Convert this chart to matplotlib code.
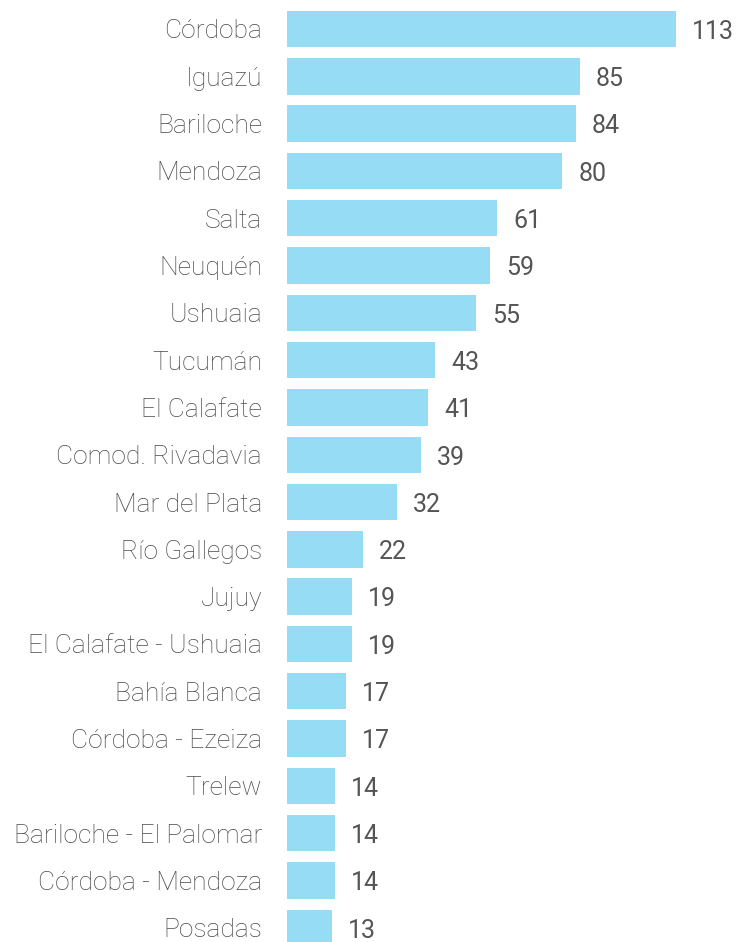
import matplotlib.pyplot as plt

rutas = ["Córdoba", "Iguazú", "Bariloche", "Mendoza", "Salta", "Neuquén",
         "Ushuaia", "Tucumán", "El Calafate", "Comod. Rivadavia", "Mar del Plata",
         "Río Gallegos", "Jujuy", "El Calafate - Ushuaia", "Bahía Blanca",
         "Córdoba - Ezeiza", "Trelew", "Bariloche - El Palomar",
         "Córdoba - Mendoza", "Posadas"]
vuelos = [113, 85, 84, 80, 61, 59, 55, 43, 41, 39, 32, 22, 19, 19, 17, 17,
          14, 14, 14, 13]

fig = plt.figure(figsize=(7.38, 9.42), dpi=100)
ax = fig.add_axes([287 / 738, 0, 1 - 287 / 738, 1])

pos = list(range(len(rutas)))
ax.barh(pos, vuelos, height=0.77, color="#97dcf5")

for y, v in zip(pos, vuelos):
    ax.annotate(str(v), (v, y), xytext=(11.5, -2), textcoords="offset points",
                ha="left", va="center", fontsize=18, family="Roboto",
                color="#555555")

ax.set_xlim(0, 451 / 3.442)
ax.set_ylim(19.3, -0.613)
ax.set_yticks(pos)
ax.set_yticklabels(rutas, fontsize=19, family="Roboto", fontweight="light",
                   color="#4a4a4a")
ax.tick_params(axis="y", length=0, pad=18)
ax.set_xticks([])
for s in ax.spines.values():
    s.set_visible(False)

fig.savefig("out.png", dpi=100)
